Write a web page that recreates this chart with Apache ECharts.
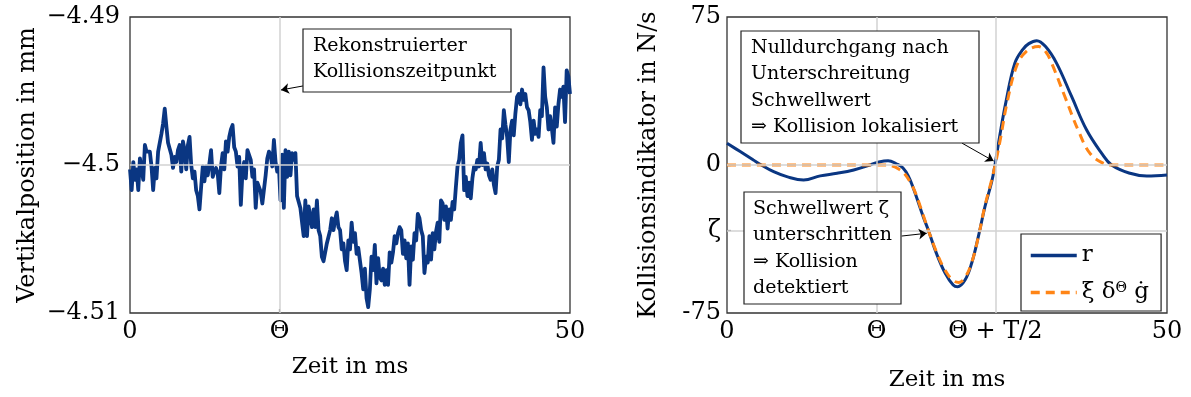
<!DOCTYPE html>
<html><head><meta charset="utf-8">
<script src="https://cdn.jsdelivr.net/npm/echarts@6/dist/echarts.min.js"></script>
<style>html,body{margin:0;padding:0;background:#fff}#c{width:1191px;height:397px}</style>
</head><body><div id="c"></div>
<script>
// ---------- data ----------
const THETA = 17;        // Θ in ms
const THETA_T2 = 30.5;   // Θ + T/2 in ms
const ZETA = -33.3;      // threshold ζ in N/s

// left: vertical position in mm, evenly sampled over 0..50 ms
const positionValues = [
-4.5003,-4.5017,-4.4998,-4.5010,-4.5003,-4.5017,-4.49955,-4.49945,-4.5010,-4.49865,
-4.4991,-4.4990,-4.4991,-4.5001,-4.5017,-4.5002,-4.5009,-4.4991,-4.4990,-4.4979,
-4.4972,-4.4962,-4.4974,-4.4985,-4.4989,-4.4993,-4.5002,-4.49945,-4.4998,-4.4990,
-4.49865,-4.50045,-4.4984,-4.4990,-4.5003,-4.49865,-4.4981,-4.5000,-4.5009,-4.50045,
-4.5017,-4.5021,-4.5030,-4.5015,-4.5001,-4.5011,-4.5001,-4.5007,-4.4999,-4.4990,
-4.5008,-4.50045,-4.5002,-4.50055,-4.5019,-4.5001,-4.4992,-4.5003,-4.4984,-4.4991,
-4.4981,-4.4976,-4.4973,-4.4988,-4.4991,-4.5001,-4.49945,-4.5027,-4.50045,-4.4998,
-4.5009,-4.4990,-4.4989,-4.49965,-4.5008,-4.5003,-4.5029,-4.5012,-4.5015,-4.5018,
-4.5026,-4.5026,-4.5007,-4.49955,-4.4991,-4.4993,-4.5001,-4.4983,-4.4998,-4.50045,
-4.5001,-4.5024,
-4.4993,-4.5029,-4.4990,-4.5008,-4.4991,-4.5007,-4.4992,-4.49965,-4.4992,-4.5021,
-4.5025,-4.5029,-4.5028,-4.5048,-4.5024,-4.5048,-4.5028,-4.5035,-4.5042,-4.5030,
-4.5042,-4.5024,-4.5044,-4.5048,-4.5062,-4.5065,-4.5064,-4.5053,-4.5054,-4.5044,
-4.5036,-4.5044,-4.5037,-4.5032,-4.5042,-4.5044,-4.5057,-4.5053,-4.5065,-4.5071,
-4.5051,-4.5057,-4.5039,-4.5052,-4.5046,-4.5060,-4.5056,-4.5057,-4.5073,-4.5084,
-4.5070,-4.5090,-4.5096,-4.5084,-4.5062,-4.5071,-4.5054,-4.5080,-4.5063,-4.5076,
-4.5078,-4.5070,-4.5081,-4.5071,-4.5081,-4.5059,-4.5066,-4.5059,-4.5048,-4.5053,
-4.5046,-4.5042,-4.5044,-4.5060,-4.5051,-4.5063,-4.5053,-4.5081,-4.5055,-4.5064,
-4.5046,-4.5051,-4.5033,-4.5036,-4.5044,-4.5048,-4.5073,-4.5062,
-4.5066,-4.5048,-4.5064,-4.5046,-4.5057,-4.5045,-4.5039,-4.5052,-4.5024,-4.5026,
-4.5037,-4.5028,-4.5043,-4.5030,-4.5037,-4.5025,-4.5030,-4.5015,-4.5001,-4.49965,
-4.4985,-4.4980,-4.5017,-4.5008,-4.5021,-4.5012,-4.50225,-4.5009,-4.5001,-4.5003,
-4.49965,-4.5001,-4.4985,-4.5000,-4.4992,-4.5003,-4.4999,-4.5007,-4.5010,-4.5003,
-4.50135,-4.5019,-4.5001,-4.49965,-4.4976,-4.4982,-4.4963,-4.4973,-4.4981,-4.4998,
-4.4976,-4.4970,-4.4980,-4.4965,-4.4954,-4.4952,-4.4959,-4.4949,-4.4956,-4.4952,
-4.4961,-4.4963,-4.4971,-4.4983,-4.4970,-4.4979,-4.4976,-4.4981,-4.4963,-4.4967,
-4.4934,-4.4954,-4.4961,-4.4976,-4.4967,-4.4975,-4.4985,-4.4961,-4.4974,-4.4959,
-4.4949,-4.4954,-4.4947,-4.4971,-4.4936,-4.4940,-4.4952
];
const positionSpanMs = 50;

// right: collision indicator r and ξδΘġ in N/s
const rTime   = [0,1.5,3.0,3.9,5.3,6.8,8.7,10.6,12.5,14.4,16.25,17.0,18.3,19.3,20.0,20.6,21.2,22.3,22.9,23.8,24.8,25.7,26.2,27.05,27.8,28.56,29.32,30.08,30.45,31.0,31.7,32.7,33.6,34.3,35.2,36.2,37.46,39.17,40.87,42.58,43.7,45.8,47.7,50];
const rValues = [11.0,6.8,2.5,0,-3.4,-5.9,-7.6,-5.5,-4.2,-2.5,0,1.2,2.2,0.5,-1.5,-5.5,-12,-26.2,-33.3,-44.8,-54.9,-60.8,-61.7,-58.3,-49.8,-36.3,-21,-8.5,0,15,32,51.5,58.5,61.5,63.0,60,51.5,34.6,17.7,5.9,0,-4.2,-5.6,-5.1];
const gTime   = [0,10,18.0,18.8,19.5,20.2,20.8,21.4,22.3,22.9,23.8,24.8,25.7,26.35,27.05,27.8,28.56,29.32,30.08,30.5,31.1,31.8,32.9,34.0,35.4,36.2,36.9,38.4,39.9,41.25,42.76,43.6,47,50];
const gValues = [0,0,0,-0.5,-2,-4.5,-8.5,-14,-25.5,-33.3,-44,-53.5,-58.5,-59.5,-57,-49.5,-36.5,-20.5,-7.5,0.5,14,31,50,57.5,60,57.5,51.5,34.6,17.7,5.9,0.8,0,0,0];

// ticks
const leftXTicks  = [0, THETA, 50];            const leftXLabels  = ['0', 'Θ', '50'];
const leftYTicks  = [-4.51, -4.5, -4.49];      const leftYLabels  = ['\u22124.51', '\u22124.5', '\u22124.49'];
const rightXTicks = [0, THETA, THETA_T2, 50];  const rightXLabels = ['0', 'Θ', 'Θ + T/2', '50'];
const rightYTicks = [-75, ZETA, 0, 75];        const rightYLabels = ['-75', 'ζ', '0', '75'];

// annotation anchors (data space)
const leftArrow   = [[19.66, -4.49466], [17.16, -4.49493]];
const rightArrow1 = [[26.7, 11.1], [30.3, 2.0]];
const rightArrow2 = [[19.85, -36], [22.7, -34.6]];

// ---------- chart ----------
const FONT = 'DejaVu Serif';
const BLUE = '#0a3682';
const ORANGE = '#ff8516';
const GRIDC = '#d2d2d2';
const G_NAME = 'xi';

const posData = positionValues.map((v, i) => [i * positionSpanMs / (positionValues.length - 1), v]);
const rData = rTime.map((t, i) => [t, rValues[i]]);
const gData = gTime.map((t, i) => [t, gValues[i]]);

function fmt(ticks, labels) {
  return v => { const i = ticks.findIndex(t => Math.abs(t - v) < 1e-6); return i >= 0 ? labels[i] : ''; };
}
const tickStyle = { fontFamily: FONT, fontSize: 24, color: '#000' };
const titleStyle = { fontFamily: FONT, fontSize: 23, color: '#000' };

function xAx(grid, ticks, labels, tickVals, gap) {
  return {
    gridIndex: grid, type: 'value', min: 0, max: 50,
    axisLine: { show: false }, splitLine: { show: false },
    axisTick: { show: true, inside: true, length: 4, customValues: tickVals, lineStyle: { color: '#666', width: 1.2 } },
    axisLabel: Object.assign({ customValues: ticks, formatter: fmt(ticks, labels), margin: 7, showMinLabel: true, showMaxLabel: true }, tickStyle),
    name: 'Zeit in ms', nameLocation: 'middle', nameGap: gap, nameTextStyle: titleStyle
  };
}
function yAx(grid, min, max, ticks, labels, tickVals, name, gap, margin) {
  return {
    gridIndex: grid, type: 'value', min: min, max: max,
    axisLine: { show: false }, splitLine: { show: false },
    axisTick: { show: true, inside: true, length: 4, customValues: tickVals, lineStyle: { color: '#666', width: 1.2 } },
    axisLabel: Object.assign({ customValues: ticks, formatter: fmt(ticks, labels), margin: margin, showMinLabel: true, showMaxLabel: true }, tickStyle),
    name: name, nameLocation: 'middle', nameGap: gap, nameTextStyle: Object.assign({}, titleStyle, { fontSize: 24 })
  };
}
function gridLines(xi, yi, xs, ys) {
  return {
    type: 'line', xAxisIndex: xi, yAxisIndex: yi, data: [], z: 1, silent: true,
    markLine: {
      silent: true, symbol: 'none', label: { show: false }, animation: false,
      lineStyle: { color: GRIDC, width: 1.5, type: 'solid' },
      data: xs.map(x => ({ xAxis: x })).concat(ys.map(y => ({ yAxis: y })))
    }
  };
}
function arrows(xi, yi, list) {
  return {
    type: 'line', xAxisIndex: xi, yAxisIndex: yi, data: [], z: 20, silent: true,
    markLine: {
      silent: true, symbol: ['none', 'arrow'], symbolSize: 8, label: { show: false }, animation: false,
      lineStyle: { color: '#000', width: 1, type: 'solid' },
      data: list.map(a => [{ coord: a[0] }, { coord: a[1] }])
    }
  };
}
function box(x, y, w, h, text, tx, ty) {
  return [
    { type: 'rect', z: 100, shape: { x: x, y: y, width: w, height: h }, style: { fill: '#fff', stroke: '#222', lineWidth: 1.2 } },
    { type: 'text', z: 101, x: tx, y: ty, style: { text: text, font: '19px "DejaVu Serif"', lineHeight: 26.3, fill: '#000', textVerticalAlign: 'top' } }
  ];
}

const option = {
  animation: false,
  backgroundColor: '#fff',
  grid: [
    { left: 130, top: 17, width: 440, height: 296, show: true, borderColor: '#333', borderWidth: 1.3, backgroundColor: 'transparent' },
    { left: 727, top: 17, width: 440, height: 296, show: true, borderColor: '#333', borderWidth: 1.3, backgroundColor: 'transparent' }
  ],
  xAxis: [
    xAx(0, leftXTicks, leftXLabels, [THETA], 43),
    xAx(1, rightXTicks, rightXLabels, [THETA, THETA_T2], 56)
  ],
  yAxis: [
    yAx(0, -4.51, -4.49, leftYTicks, leftYLabels, [-4.5], 'Vertikalposition in mm', 90, 10),
    yAx(1, -75, 75, rightYTicks, rightYLabels, [ZETA, 0], 'Kollisionsindikator in N/s', 66, 6)
  ],
  legend: {
    data: ['r', G_NAME], orient: 'vertical', left: 1021, top: 234,
    itemWidth: 46, itemHeight: 14, itemGap: 14,
    itemStyle: { opacity: 0 },
    lineStyle: { width: 3.5 },
    padding: [10, 12, 7, 8], borderColor: '#222', borderWidth: 1.2, backgroundColor: '#fff',
    textStyle: { fontFamily: FONT, fontSize: 23, color: '#000',
      rich: { a: { fontFamily: FONT, fontSize: 23, color: '#000' }, s: { fontFamily: FONT, fontSize: 14, color: '#000', verticalAlign: 'top', lineHeight: 14 } } },
    formatter: n => n === 'r' ? 'r' : '{a|ξ δ}{s|Θ}{a| ġ}',
    z: 50
  },
  series: [
    gridLines(0, 0, [THETA], [-4.5]),
    { type: 'line', name: 'pos', xAxisIndex: 0, yAxisIndex: 0, data: posData, symbol: 'none', z: 3,
      lineStyle: { color: BLUE, width: 3.8, join: 'round' } },
    arrows(0, 0, [leftArrow]),
    gridLines(1, 1, [THETA, THETA_T2], [0, ZETA]),
    { type: 'line', name: 'r', xAxisIndex: 1, yAxisIndex: 1, data: rData, symbol: 'none', smooth: 0.4, z: 3,
      itemStyle: { color: BLUE }, lineStyle: { color: BLUE, width: 3 } },
    { type: 'line', name: G_NAME, xAxisIndex: 1, yAxisIndex: 1, data: gData, symbol: 'none', smooth: 0.4, z: 4,
      itemStyle: { color: ORANGE }, lineStyle: { color: ORANGE, width: 3, type: [9, 6] } },
    arrows(1, 1, [rightArrow1, rightArrow2])
  ],
  graphic: [].concat(
    box(303, 29, 208, 63, 'Rekonstruierter\nKollisionszeitpunkt', 313, 33),
    box(741, 31, 238, 112, 'Nulldurchgang nach\nUnterschreitung\nSchwellwert\n⇒ Kollision lokalisiert', 751, 35),
    box(744, 192, 157, 112, 'Schwellwert ζ\nunterschritten\n⇒ Kollision\ndetektiert', 753, 196)
  )
};
const chart = echarts.init(document.getElementById('c'), null, { renderer: 'canvas' });
chart.setOption(option);
</script>
</body></html>
